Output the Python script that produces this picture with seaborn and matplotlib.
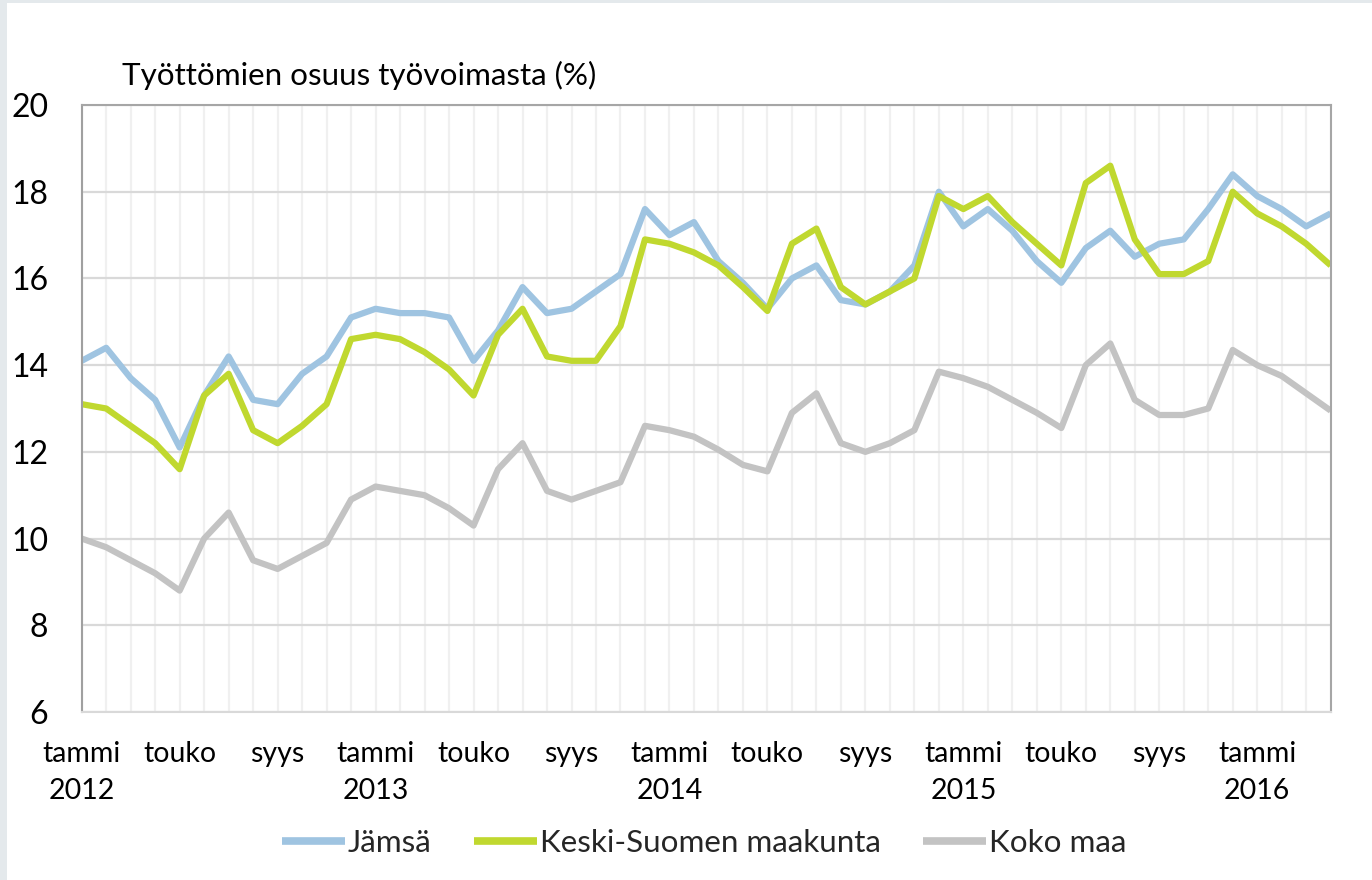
import matplotlib
matplotlib.use("Agg")
import matplotlib.pyplot as plt
from matplotlib.patches import Rectangle
from matplotlib.ticker import MultipleLocator, FixedLocator
import seaborn as sns
import pandas as pd
import numpy as np

# ---- data (monthly, tammi 2012 .. huhti 2016) ----
months = list(range(52))
jamsa = [14.1, 14.4, 13.7, 13.2, 12.1, 13.3, 14.2, 13.2, 13.1, 13.8, 14.2, 15.1,
         15.3, 15.2, 15.2, 15.1, 14.1, 14.8, 15.8, 15.2, 15.3, 15.7, 16.1, 17.6,
         17.0, 17.3, 16.4, 15.9, 15.3, 16.0, 16.3, 15.5, 15.4, 15.7, 16.3, 18.0,
         17.2, 17.6, 17.1, 16.4, 15.9, 16.7, 17.1, 16.5, 16.8, 16.9, 17.6, 18.4,
         17.9, 17.6, 17.2, 17.5]
keski = [13.1, 13.0, 12.6, 12.2, 11.6, 13.3, 13.8, 12.5, 12.2, 12.6, 13.1, 14.6,
         14.7, 14.6, 14.3, 13.9, 13.3, 14.7, 15.3, 14.2, 14.1, 14.1, 14.9, 16.9,
         16.8, 16.6, 16.3, 15.8, 15.25, 16.8, 17.15, 15.8, 15.4, 15.7, 16.0, 17.9,
         17.6, 17.9, 17.3, 16.8, 16.3, 18.2, 18.6, 16.9, 16.1, 16.1, 16.4, 18.0,
         17.5, 17.2, 16.8, 16.3]
koko = [10.0, 9.8, 9.5, 9.2, 8.8, 10.0, 10.6, 9.5, 9.3, 9.6, 9.9, 10.9,
        11.2, 11.1, 11.0, 10.7, 10.3, 11.6, 12.2, 11.1, 10.9, 11.1, 11.3, 12.6,
        12.5, 12.35, 12.05, 11.7, 11.55, 12.9, 13.35, 12.2, 12.0, 12.2, 12.5, 13.85,
        13.7, 13.5, 13.2, 12.9, 12.55, 14.0, 14.5, 13.2, 12.85, 12.85, 13.0, 14.35,
        14.0, 13.75, 13.35, 12.95]
series_names = ["Jämsä", "Keski-Suomen maakunta", "Koko maa"]
colors = ["#9fc4e1", "#c0d82f", "#c3c3c3"]
tick_pos = [0, 4, 8, 12, 16, 20, 24, 28, 32, 36, 40, 44, 48]
tick_labels = ["tammi\n2012", "touko", "syys", "tammi\n2013", "touko", "syys",
               "tammi\n2014", "touko", "syys", "tammi\n2015", "touko", "syys",
               "tammi\n2016"]
y_ticks = [6, 8, 10, 12, 14, 16, 18, 20]
title = "Työttömien osuus työvoimasta (%)"

df = pd.concat([
    pd.DataFrame({"kk": months, "arvo": vals, "sarja": name})
    for name, vals in zip(series_names, [jamsa, keski, koko])
], ignore_index=True)

sns.set_theme(style="white")
plt.rcParams["font.family"] = ["Lato", "DejaVu Sans"]

W, H = 1372, 880
fig = plt.figure(figsize=(W / 100, H / 100), dpi=100)
fig.patch.set_facecolor("#e4e9ec")
fig.add_artist(Rectangle((7 / W, 0), 1 - 7 / W, 1 - 3 / H, transform=fig.transFigure,
                         facecolor="white", edgecolor="none", zorder=-5))

ax = fig.add_axes([81.7 / W, 1 - 712 / H, (1330.7 - 81.7) / W, (712 - 105) / H])
ax.set_facecolor("white")

sns.lineplot(data=df, x="kk", y="arvo", hue="sarja", hue_order=series_names,
             palette=colors, linewidth=4.5, ax=ax, legend=True)
for ln in ax.get_lines():
    ln.set_solid_joinstyle("round")
    ln.set_solid_capstyle("butt")

ax.set_xlim(0, 51)
ax.set_ylim(6, 20)
ax.set_yticks(y_ticks)
ax.xaxis.set_major_locator(FixedLocator(tick_pos))
ax.xaxis.set_minor_locator(MultipleLocator(1))
ax.set_xticklabels(tick_labels, fontsize=20.5, linespacing=1.5)
ax.tick_params(axis="x", which="both", length=0, pad=21, colors="black")
ax.tick_params(axis="y", length=0, pad=24, labelsize=23, colors="black")
ax.set_xlabel("")
ax.set_ylabel("")

ax.grid(axis="x", which="both", color="#f0f0f0", linewidth=1.6, zorder=0)
ax.grid(axis="y", which="major", color="#d9d9d9", linewidth=1.6, zorder=0)
ax.set_axisbelow(True)

for side in ["top", "right"]:
    ax.spines[side].set_color("#a6a6a6")
    ax.spines[side].set_linewidth(1.5)
ax.spines["left"].set_color("#a0a0a0")
ax.spines["left"].set_linewidth(1.5)
ax.spines["bottom"].set_color("#d9d9d9")
ax.spines["bottom"].set_linewidth(1.5)

fig.text(122 / W, 1 - 85 / H, title, fontsize=22.6, ha="left", va="baseline",
         color="black")

handles, labels = ax.get_legend_handles_labels()
leg = ax.legend(handles, labels, loc="center", bbox_to_anchor=(704 / W, 1 - 843 / H),
                bbox_transform=fig.transFigure, ncol=3, frameon=False,
                fontsize=22.6, handlelength=2.0, handletextpad=0.1,
                columnspacing=1.35, borderaxespad=0)
for lh in leg.get_lines():
    lh.set_linewidth(5.5)

fig.savefig("out.png", dpi=100)
